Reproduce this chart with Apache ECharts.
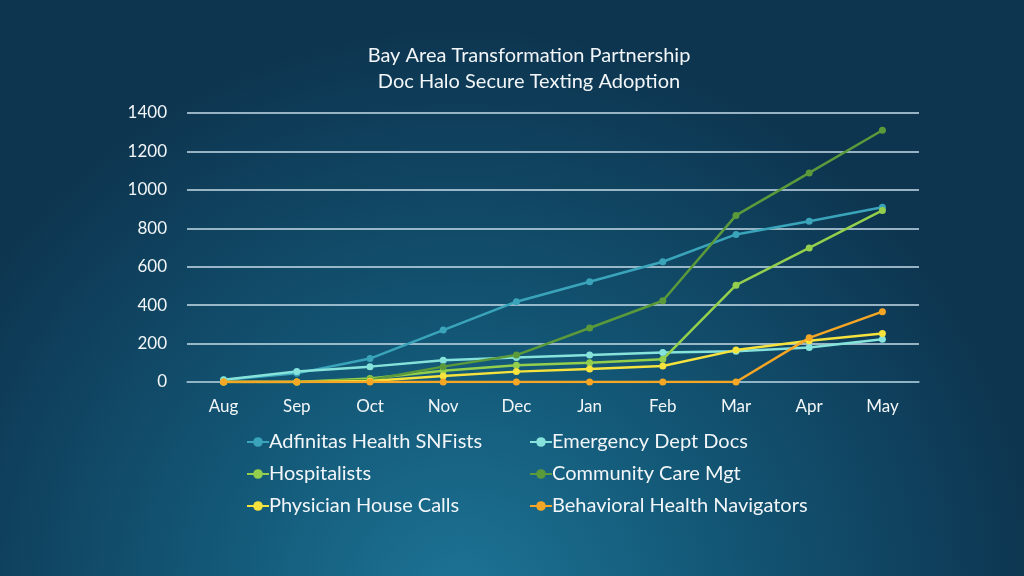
<!DOCTYPE html>
<html>
<head>
<meta charset="utf-8">
<style>
  html, body { margin: 0; padding: 0; }
  #chart-container { width: 1024px; height: 576px; }
</style>
<script src="https://cdn.jsdelivr.net/npm/echarts@6/dist/echarts.min.js"></script>
</head>
<body>
<div id="chart-container"></div>
<script>
var months = ['Aug', 'Sep', 'Oct', 'Nov', 'Dec', 'Jan', 'Feb', 'Mar', 'Apr', 'May'];
var adfinitas = [10, 45, 122, 270, 418, 522, 626, 768, 837, 910];
var emergency = [12, 55, 80, 113, 127, 140, 154, 160, 180, 222];
var hospitalists = [0, 0, 18, 59, 87, 100, 118, 504, 698, 893];
var communityCare = [0, 0, 10, 80, 140, 281, 423, 867, 1088, 1310];
var houseCalls = [0, 0, 5, 31, 54, 68, 83, 166, 215, 253];
var behavioral = [0, 0, 0, 0, 0, 0, 0, 0, 230, 366];

var dom = document.getElementById('chart-container');
var myChart = echarts.init(dom, null, { renderer: 'canvas' });

var font = 'Lato, "Open Sans", sans-serif';

function line(name, data, color) {
    return {
        name: name,
        type: 'line',
        data: data,
        symbol: 'circle',
        symbolSize: 7,
        lineStyle: { width: 2.5, color: color },
        itemStyle: { color: color }
    };
}

var legendText = { color: '#f2f6f8', fontFamily: font, fontSize: 20, padding: [0, 0, 0, -5] };

var option = {
    backgroundColor: {
        type: 'radial',
        x: 0.45, y: 1.05, r: 1.0,
        colorStops: [
            { offset: 0, color: '#1d7496' },
            { offset: 0.45, color: '#135776' },
            { offset: 1, color: '#0d3550' }
        ]
    },
    title: {
        text: 'Bay Area Transformation Partnership\nDoc Halo Secure Texting Adoption',
        left: 524,
        top: 38,
        textAlign: 'center',
        textStyle: {
            color: '#f2f6f8',
            fontFamily: font,
            fontSize: 20,
            fontWeight: 'normal',
            lineHeight: 26
        }
    },
    legend: [
        {
            orient: 'vertical',
            left: 241,
            top: 427,
            itemGap: 12,
            itemWidth: 22,
            itemHeight: 12,
            textStyle: legendText,
            data: ['Adfinitas Health SNFists', 'Hospitalists', 'Physician House Calls']
        },
        {
            orient: 'vertical',
            left: 524,
            top: 427,
            itemGap: 12,
            itemWidth: 22,
            itemHeight: 12,
            textStyle: legendText,
            data: ['Emergency Dept Docs', 'Community Care Mgt', 'Behavioral Health Navigators']
        }
    ],
    grid: { left: 187, right: 105, top: 113, bottom: 194 },
    xAxis: {
        type: 'category',
        data: months,
        axisTick: { show: false },
        axisLine: { lineStyle: { color: '#8fb3c2', width: 1.5 } },
        axisLabel: { color: '#f2f6f8', fontFamily: font, fontSize: 17, margin: 16 }
    },
    yAxis: {
        type: 'value',
        min: 0,
        max: 1400,
        interval: 200,
        axisLine: { show: false },
        axisTick: { show: false },
        axisLabel: {
            color: '#f2f6f8', fontFamily: font, fontSize: 17, margin: 20,
            formatter: function (v) { return String(v); }
        },
        splitLine: { lineStyle: { color: '#c6dde8', width: 1.5 } }
    },
    series: [
        line('Adfinitas Health SNFists', adfinitas, '#3aa4ba'),
        line('Emergency Dept Docs', emergency, '#86e3dc'),
        line('Hospitalists', hospitalists, '#93cf4c'),
        line('Community Care Mgt', communityCare, '#5b9a3b'),
        line('Physician House Calls', houseCalls, '#f6e23c'),
        line('Behavioral Health Navigators', behavioral, '#f5a625')
    ]
};

myChart.setOption(option);
window.addEventListener('resize', myChart.resize);
</script>
</body>
</html>
